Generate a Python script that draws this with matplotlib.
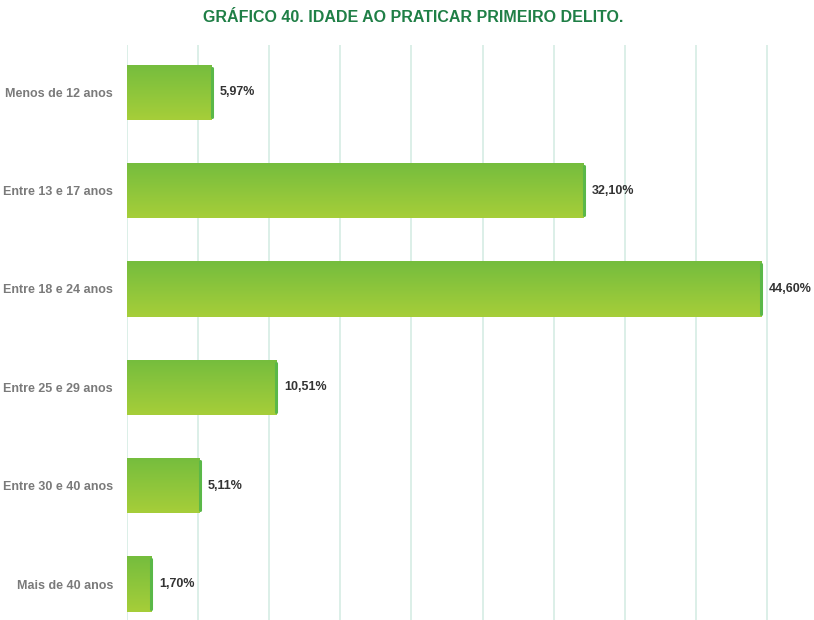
import matplotlib
matplotlib.use("Agg")
import matplotlib.pyplot as plt
import numpy as np
from matplotlib.colors import LinearSegmentedColormap

categorias = ["Menos de 12 anos", "Entre 13 e 17 anos", "Entre 18 e 24 anos",
              "Entre 25 e 29 anos", "Entre 30 e 40 anos", "Mais de 40 anos"]
valores = [5.97, 32.10, 44.60, 10.51, 5.11, 1.70]
rotulos = ["5,97%", "32,10%", "44,60%", "10,51%", "5,11%", "1,70%"]

plt.rcParams['font.family'] = ['Liberation Sans', 'DejaVu Sans']

fig = plt.figure(figsize=(8.14, 6.2), dpi=100)
ax = fig.add_axes([0.156, 0.0, 0.844, 0.927])

n = len(categorias)
y = np.arange(n)
altura = 0.56
cmap = LinearSegmentedColormap.from_list("verde", ["#75bd3e", "#a6ce39"])
grad = np.linspace(0, 1, 100).reshape(-1, 1)

ax.set_xlim(0, 48.3)
ax.set_ylim(n - 0.634, -0.478)

for xg in np.arange(0, 46, 5):
    ax.axvline(xg, color="#d6ece4", lw=1.2, zorder=0)

for i, v in enumerate(valores):
    y0 = y[i] - altura / 2
    im = ax.imshow(grad, cmap=cmap, aspect="auto", extent=(0, v, y0 + altura, y0),
                   zorder=2, interpolation="bilinear")
    ret = plt.Rectangle((0, y0), v, altura, transform=ax.transData, fc="none", ec="none")
    ax.add_patch(ret)
    im.set_clip_path(ret)
    # borda arredondada na ponta
    ax.plot([v, v], [y0 + 0.03, y0 + altura - 0.03], color="#5ab848", lw=2.2,
            solid_capstyle="round", zorder=3)
    ax.text(v + 0.55, y[i], rotulos[i], va="center", ha="left", fontsize=9,
            color="#333333", fontweight="bold", zorder=4)

ax.set_yticks(y)
ax.set_yticklabels(categorias, fontsize=9, color="#7a7a7a", fontweight="bold")
ax.tick_params(axis="y", length=0, pad=10)
ax.set_xticks([])
for s in ax.spines.values():
    s.set_visible(False)

fig.text(0.507, 0.971, "GRÁFICO 40. IDADE AO PRATICAR PRIMEIRO DELITO.", ha="center",
         va="center", fontsize=11.5, fontweight="bold", color="#1f7f46")

fig.savefig("out.png", dpi=100)
